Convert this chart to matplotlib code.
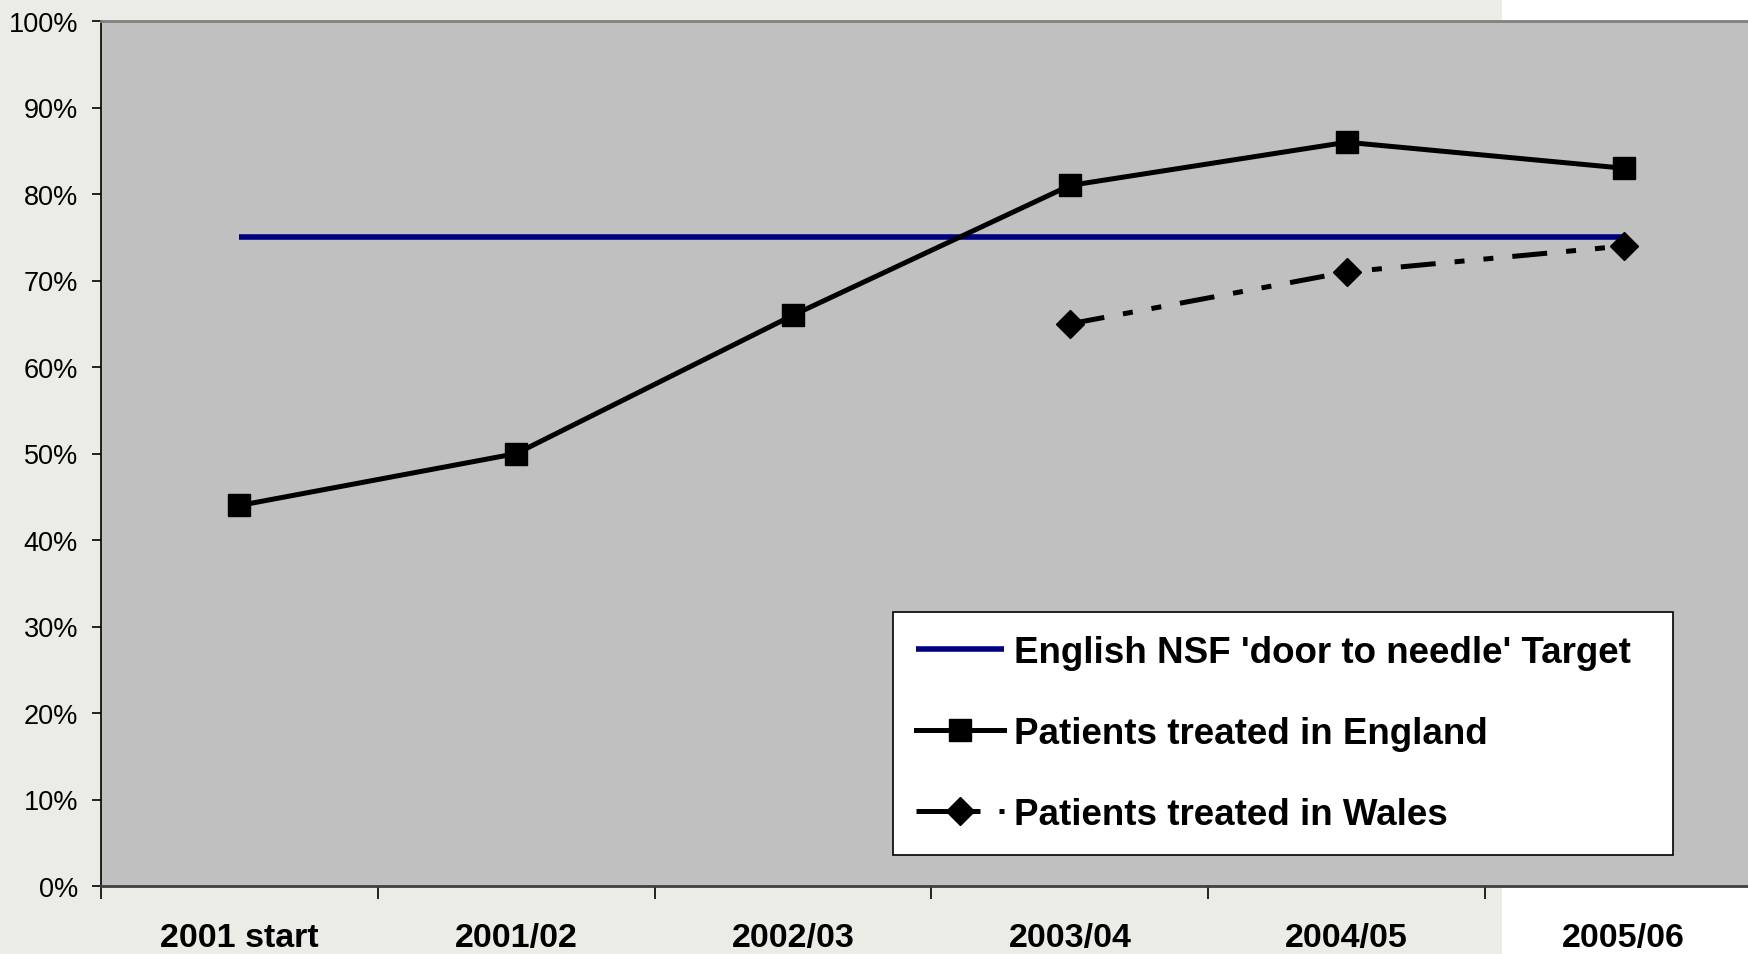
import matplotlib.pyplot as plt
from matplotlib.patches import Rectangle

# данные
years = ['2001 start', '2001/02', '2002/03', '2003/04', '2004/05', '2005/06']
target = [75, 75, 75, 75, 75, 75]
england = [44, 50, 66, 81, 86, 83]
wales_years = ['2003/04', '2004/05', '2005/06']
wales = [65, 71, 74]

plt.rcParams['font.family'] = ['Liberation Sans', 'DejaVu Sans']

fig = plt.figure(figsize=(17.49, 9.548), dpi=100, facecolor='#ecece7')
# белая полоса справа (под осями)
fig.patches.append(Rectangle((0.8588, 0), 0.1412, 1, transform=fig.transFigure,
                             facecolor='white', edgecolor='none', zorder=-1))

ax = fig.add_axes([0.0577, 0.0712, 0.9497, 0.9058])
ax.set_facecolor('#c0c0c0')

x = list(range(len(years)))
wx = [years.index(y) for y in wales_years]

ax.plot(x, target, color='#000080', lw=4, solid_capstyle='butt', zorder=3,
        label="English NSF 'door to needle' Target")
ax.plot(x, england, color='black', lw=3.6, marker='s', markersize=16, zorder=5,
        label='Patients treated in England')
ax.plot(wx, wales, color='black', lw=3.6, marker='D', markersize=14,
        linestyle=(0, (7, 3.8, 2, 3.8, 2, 3.8)), zorder=4,
        label='Patients treated in Wales')

ax.set_xlim(-0.5, 5.5)
ax.set_ylim(0, 100)
ax.set_yticks(range(0, 101, 10))
ax.set_yticklabels([f'{v}%' for v in range(0, 101, 10)], fontsize=19.5)
ax.tick_params(axis='y', direction='out', length=6.5, width=1.2, pad=10)

ax.set_xticks(x)
ax.set_xticklabels(years, fontsize=24.5, fontweight='bold')
ax.tick_params(axis='x', which='major', length=0, pad=26)
ax.set_xticks([i + 0.5 for i in range(-1, 6)], minor=True)
ax.tick_params(axis='x', which='minor', direction='out', length=9, width=1.2)

ax.spines['top'].set_color('#808080')
ax.spines['top'].set_linewidth(2)
ax.spines['left'].set_color('black')
ax.spines['left'].set_linewidth(1.2)
ax.spines['bottom'].set_color('#404040')
ax.spines['bottom'].set_linewidth(2)
ax.spines['right'].set_visible(False)

leg = ax.legend(loc='lower left', bbox_to_anchor=(0.4768, 0.0358, 0.4696, 0.2856),
                mode='expand', prop={'weight': 'bold', 'size': 26.5},
                frameon=True, fancybox=False, shadow=False, framealpha=1,
                edgecolor='black', handlelength=2.4, handletextpad=0.27,
                labelspacing=1.25, borderpad=0.62, borderaxespad=0)
leg.get_frame().set_linewidth(1.2)

plt.savefig('out.png', dpi=100, facecolor=fig.get_facecolor())
